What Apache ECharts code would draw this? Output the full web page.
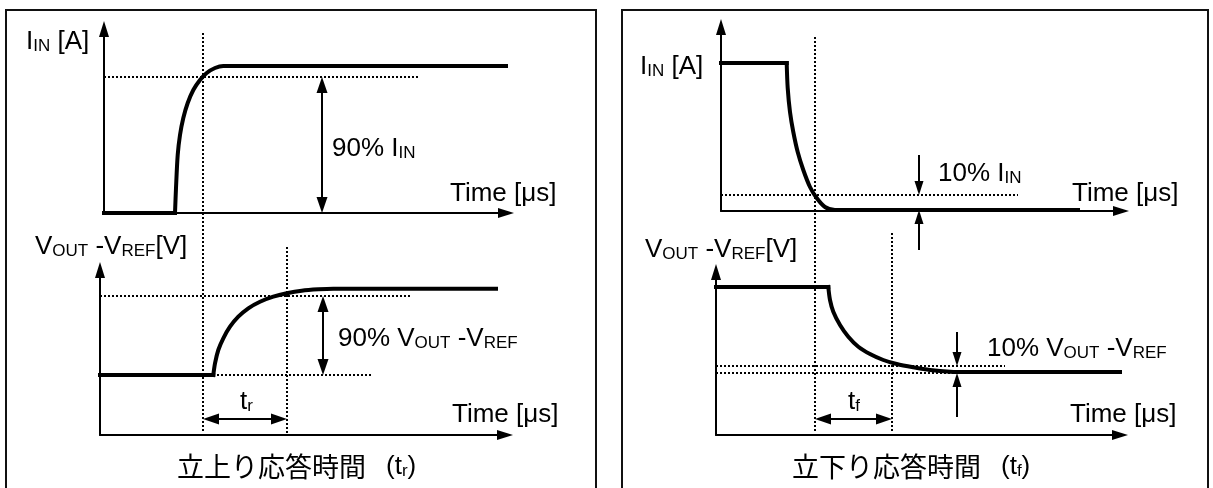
<!DOCTYPE html>
<html lang="ja">
<head>
<meta charset="UTF-8">
<title>応答時間</title>
<script src="https://cdn.jsdelivr.net/npm/echarts@6/dist/echarts.min.js"></script>
<style>
  html, body { margin: 0; padding: 0; background: #fff; }
  #chart { width: 1213px; height: 488px; }
</style>
</head>
<body>
<div id="chart"></div>
<script>
// waveform samples (time offset, level offset) per panel
// index 1 is the corner where the transition starts
const inRiseT  = [0, 71, 72, 73.7, 76, 79.3, 83.7, 89.3, 96, 102.7, 111, 119.3, 131, 407];
const inRiseY  = [0, 0, 25, 58, 78, 95, 110, 123, 133, 140, 145, 147, 147, 147];
const outRiseT = [0, 113.3, 115, 118.3, 123.3, 130, 138.3, 148.3, 160, 173.3, 186.7, 201.7, 218.3, 233.3, 396];
const outRiseY = [60, 60, 71.7, 85, 96.7, 108.3, 118.3, 126.7, 133.3, 138.3, 141.7, 144.3, 145.7, 146.3, 146.3];
const inFallT  = [0, 65.7, 66.7, 69, 72.3, 76.7, 82.3, 89, 95.7, 104, 114, 129, 357];
const inFallY  = [148, 148, 123, 99, 79, 59, 41, 24, 13, 4, 1, 1, 1];
const outFallT = [0, 112.3, 114, 117.3, 124, 132.3, 142.3, 154, 167.3, 180.7, 197.3, 214, 234, 254, 407];
const outFallY = [148, 148, 135, 123.3, 110, 98.3, 88.3, 81, 75, 71, 67.7, 65, 63.3, 63, 63];

// dotted guide lines [x1, y1, x2, y2]
const guidesInRise  = [[0, 136, 314, 136], [99, 180, 99, -220]];
const guidesOutRise = [[0, 139, 310, 139], [113, 60, 273, 60], [187, 188, 187, 2]];
const guidesInFall  = [[-16, 16, 297, 16], [94, 174, 94, -222]];
const guidesOutFall = [[0, 69, 289, 69], [0, 62, 239, 62], [176, 202, 176, 2]];

// arrows [x1, y1, x2, y2, both ends?]
const arrowsInRise  = [[218, 136, 218, 0, true]];
const arrowsOutRise = [[103, 16, 187, 16, true], [223, 139, 223, 60, true]];
const arrowsInFall  = [[198, 56, 198, 16, false], [198, -39, 198, 1, false]];
const arrowsOutFall = [[99, 16, 176, 16, true], [241, 103, 241, 69, false], [241, 18, 241, 62, false]];

// panel frames: left, origin y, axis width, axis height
const frames = [
  [104, 213, 402, 184],
  [100, 435, 405, 165],
  [721, 211, 400, 184],
  [716, 435, 404, 163]
];

const chart = echarts.init(document.getElementById('chart'));
const FONT = 'Liberation Sans';

const grids = [], xAxes = [], yAxes = [], series = [];
frames.forEach(function (f, i) {
  grids.push({ left: f[0], top: f[1] - f[3], width: f[2], height: f[3], containLabel: false });
  const common = {
    gridIndex: i, type: 'value', min: 0,
    axisTick: { show: false }, axisLabel: { show: false }, splitLine: { show: false },
    axisLine: { show: true, symbol: ['none', 'triangle'], symbolSize: [10, 16],
      lineStyle: { color: '#000', width: 2 } }
  };
  xAxes.push(Object.assign({}, common, { max: f[2] }));
  yAxes.push(Object.assign({}, common, { max: f[3] }));
});

function zip(t, y) { return t.map(function (v, k) { return [v, y[k]]; }); }

[[inRiseT, inRiseY], [outRiseT, outRiseY], [inFallT, inFallY], [outFallT, outFallY]].forEach(function (c, i) {
  const pts = zip(c[0], c[1]);
  const thick = { color: '#000', width: 4, cap: 'square', join: 'round' };
  // flat lead-in, then the smooth transition starting at the corner
  series.push({
    type: 'line', xAxisIndex: i, yAxisIndex: i, data: pts.slice(0, 2),
    symbol: 'none', clip: false, silent: true, z: 5, lineStyle: thick
  });
  series.push({
    type: 'line', xAxisIndex: i, yAxisIndex: i, data: pts.slice(1),
    symbol: 'none', smooth: 0.3, clip: false, silent: true, z: 5, lineStyle: thick
  });
});

[guidesInRise, guidesOutRise, guidesInFall, guidesOutFall].forEach(function (list, i) {
  list.forEach(function (g) {
    series.push({
      type: 'line', xAxisIndex: i, yAxisIndex: i,
      data: [[g[0], g[1]], [g[2], g[3]]],
      symbol: 'none', clip: false, silent: true, z: 3,
      lineStyle: { color: '#000', width: 2, type: [2, 2] }
    });
  });
});

function arrowEnd(tx, ty, ox, oy, w, len) {
  const dx = tx - ox, dy = ty - oy, d = Math.sqrt(dx * dx + dy * dy);
  const ux = dx / d, uy = dy / d;
  return {
    value: [tx - ux * len / 2, ty - uy * len / 2],
    symbol: 'triangle', symbolSize: [w, len],
    symbolRotate: Math.atan2(dy, dx) * 180 / Math.PI - 90
  };
}

[arrowsInRise, arrowsOutRise, arrowsInFall, arrowsOutFall].forEach(function (list, i) {
  list.forEach(function (a) {
    const both = a[4];
    const w = both ? 11 : 9, len = both ? 16 : 14;
    const start = both ? arrowEnd(a[0], a[1], a[2], a[3], w, len) : { value: [a[0], a[1]], symbol: 'none' };
    series.push({
      type: 'line', xAxisIndex: i, yAxisIndex: i,
      data: [start, arrowEnd(a[2], a[3], a[0], a[1], w, len)],
      symbol: 'none', showSymbol: true, clip: false, silent: true, z: 6,
      itemStyle: { color: '#000', borderWidth: 0 },
      lineStyle: { color: '#000', width: 2 }
    });
  });
});

const RICH = {
  n: { fontFamily: FONT, fontSize: 26, lineHeight: 30, verticalAlign: 'bottom', fill: '#000' },
  s: { fontFamily: FONT, fontSize: 17, lineHeight: 18, verticalAlign: 'bottom', fill: '#000' },
  c: { fontFamily: 'Noto Sans CJK JP', fontSize: 27, lineHeight: 30, verticalAlign: 'bottom', fill: '#000' },
  g: { fontFamily: FONT, fontSize: 26, lineHeight: 30, width: 20, verticalAlign: 'bottom' },
  p: { fontFamily: FONT, fontSize: 26, lineHeight: 30, verticalAlign: 'bottom', fill: '#000' },
  ps: { fontFamily: FONT, fontSize: 17, lineHeight: 18, verticalAlign: 'bottom', fill: '#000' }
};

function label(x, y, text, align) {
  return {
    type: 'text', x: x, y: y, z: 10, silent: true,
    style: { text: text, rich: RICH, fill: '#000', align: align || 'left', verticalAlign: 'middle' }
  };
}

const graphic = [
  { type: 'rect', shape: { x: 6, y: 10, width: 590, height: 500 },
    style: { fill: 'none', stroke: '#111', lineWidth: 2 } },
  { type: 'rect', shape: { x: 622, y: 10, width: 586, height: 500 },
    style: { fill: 'none', stroke: '#111', lineWidth: 2 } },
  label(26, 40, '{n|I}{s|IN}{n| [A]}'),
  label(332, 147, '{n|90% I}{s|IN}'),
  label(450, 192, '{n|Time [μs]}'),
  label(35, 245, '{n|V}{s|OUT}{n| -V}{s|REF}{n|[V]}'),
  label(338, 337, '{n|90% V}{s|OUT}{n| -V}{s|REF}'),
  label(240, 400, '{n|t}{s|r}'),
  label(452, 413, '{n|Time [μs]}'),
  label(177, 465, '{c|立上り応答時間}{g| }{p|(t}{ps|r}{p|)}'),
  label(640, 65, '{n|I}{s|IN}{n| [A]}'),
  label(938, 172, '{n|10% I}{s|IN}'),
  label(1072, 192, '{n|Time [μs]}'),
  label(645, 248, '{n|V}{s|OUT}{n| -V}{s|REF}{n|[V]}'),
  label(987, 347, '{n|10% V}{s|OUT}{n| -V}{s|REF}'),
  label(848, 400, '{n|t}{s|f}'),
  label(1070, 413, '{n|Time [μs]}'),
  label(792, 465, '{c|立下り応答時間}{g| }{p|(t}{ps|f}{p|)}')
];

chart.setOption({
  animation: false,
  backgroundColor: '#fff',
  grid: grids,
  xAxis: xAxes,
  yAxis: yAxes,
  series: series,
  graphic: graphic
});
</script>
</body>
</html>
